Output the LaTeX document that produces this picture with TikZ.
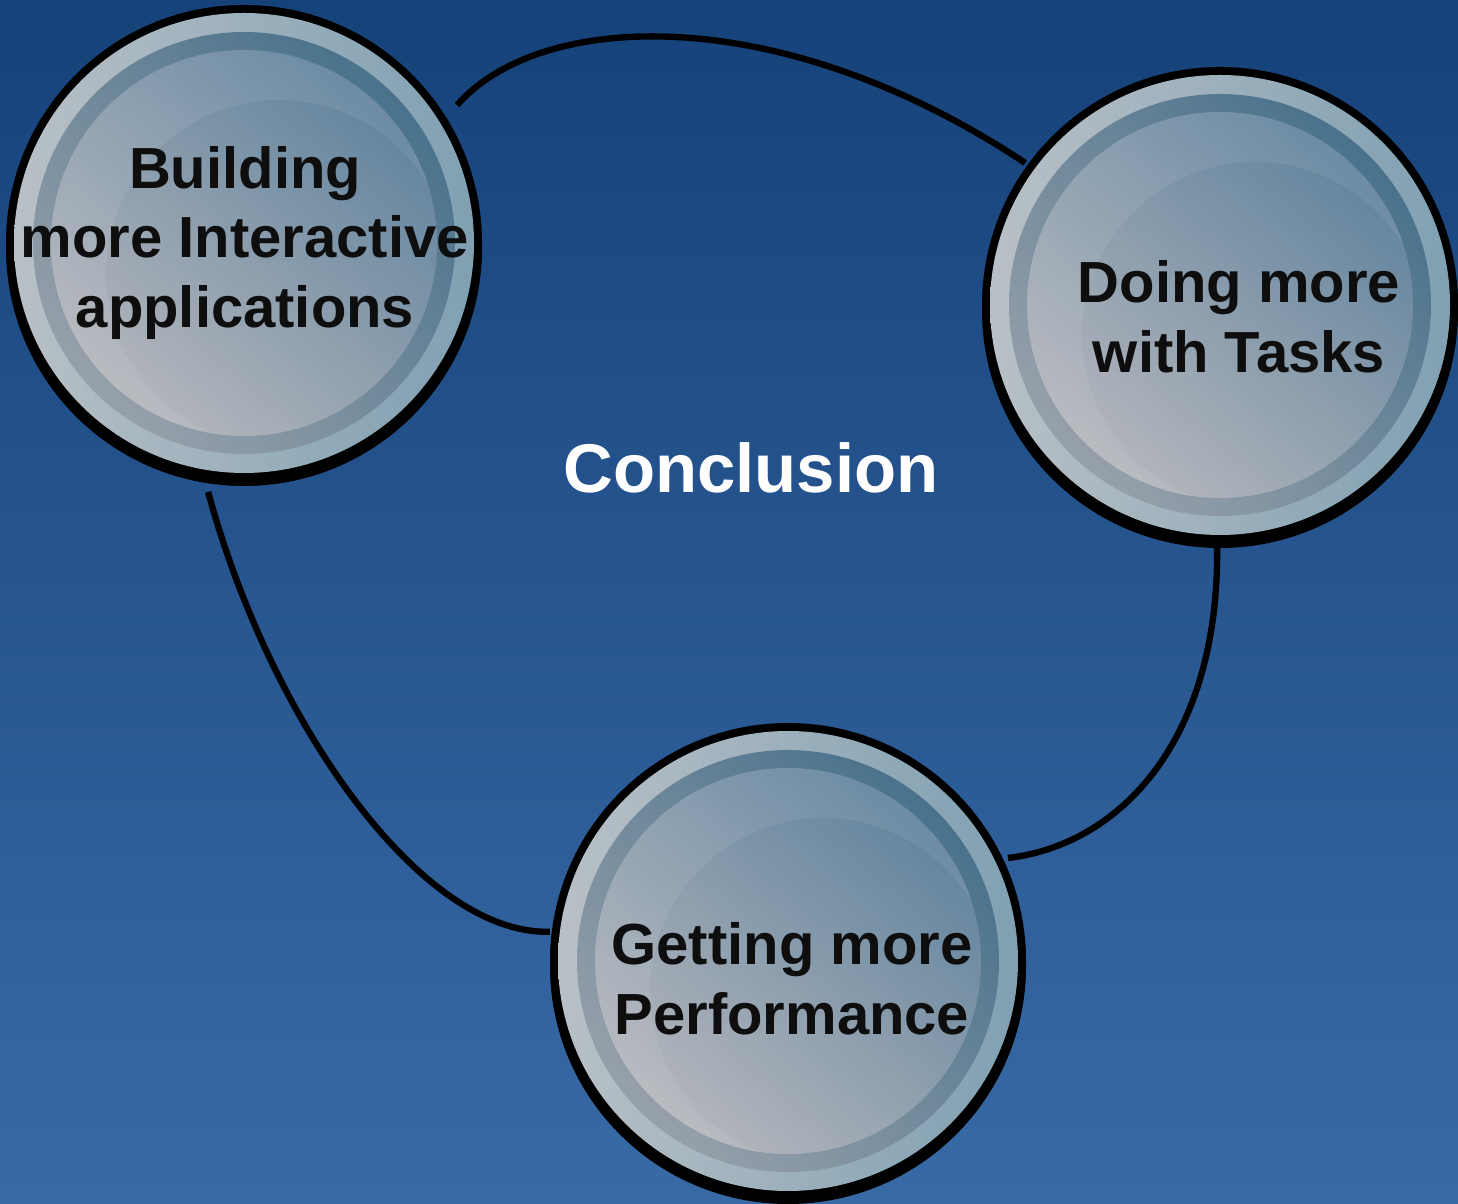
\documentclass[tikz,border=0pt]{standalone}
\usepackage{fontspec}
\setmainfont{Liberation Sans}
\usetikzlibrary{calc}
\definecolor{bgTop}{RGB}{22,66,122}
\definecolor{bgMid}{RGB}{42,92,150}
\definecolor{bgBot}{RGB}{56,106,166}
\definecolor{ringL}{RGB}{184,192,198}
\definecolor{ringR}{RGB}{128,160,178}
\definecolor{bandT}{RGB}{74,114,140}
\definecolor{bandB}{RGB}{150,160,170}
\definecolor{inT}{RGB}{98,132,158}
\definecolor{inB}{RGB}{180,182,188}
\definecolor{txt}{RGB}{14,14,14}
\tikzset{
  glass/.pic={
    \fill[black] (0,-0.05) circle (2.38cm);
    \fill[black] (0,0) circle (2.38cm);
    \shade[left color=ringL, right color=ringR] (0,0) circle (2.30cm);
    \shade[top color=bandT, bottom color=bandB, shading angle=-45] (0,0) circle (2.11cm);
    \shade[top color=inT, bottom color=inB, shading angle=-40] (0,0) circle (1.93cm);
    \begin{scope}
      \clip (0,0) circle (1.93cm);
      \fill[white, opacity=0.07, even odd rule] (0,0) circle (1.93cm) (0.35,-0.3) circle (1.73cm);
    \end{scope}
  },
  disc/.style={circle, minimum size=4.76cm, inner sep=0pt, draw=none},
  label/.style={text=txt, font=\bfseries\fontsize{16.5pt}{19.9pt}\selectfont, align=center, inner sep=0pt},
  link/.style={draw=black, line width=1.8pt},
}
\begin{document}
\begin{tikzpicture}
\useasboundingbox (0,0) rectangle (14.58,12.04);
\shade[top color=bgTop, middle color=bgMid, bottom color=bgBot] (0,0) rectangle (14.58,12.04);

\path (2.44,9.61) pic {glass} node[disc] (c1) {};
\path (12.20,8.99) pic {glass} node[disc] (c2) {};
\path (7.88,2.43) pic {glass} node[disc] (c3) {};

\node[label] (t1) at (2.45,9.61) {Building\\more Interactive\\applications};
\node[label] (t2) at (12.39,8.87) {Doing more\\with Tasks};
\node[label] (t3) at (7.92,2.25) {Getting more\\Performance};
\node[text=white, font=\bfseries\fontsize{19.6pt}{23pt}\selectfont, inner sep=0pt] (concl) at (7.51,7.36) {Conclusion};

\draw[link] ($(c1.center)+(32.9:2.538)$) .. controls (5.40,11.94) and (7.80,12.04) .. ($(c2.center)+(143.9:2.412)$);
\draw[link] ($(c2.center)+(-90.7:2.40)$) .. controls (12.20,4.64) and (11.20,3.59) .. ($(c3.center)+(25.1:2.429)$);
\draw[link] ($(c1.center)+(-98.2:2.516)$) .. controls (2.70,4.84) and (4.20,2.69) .. ($(c3.center)+(173:2.40)$);
\end{tikzpicture}
\end{document}
